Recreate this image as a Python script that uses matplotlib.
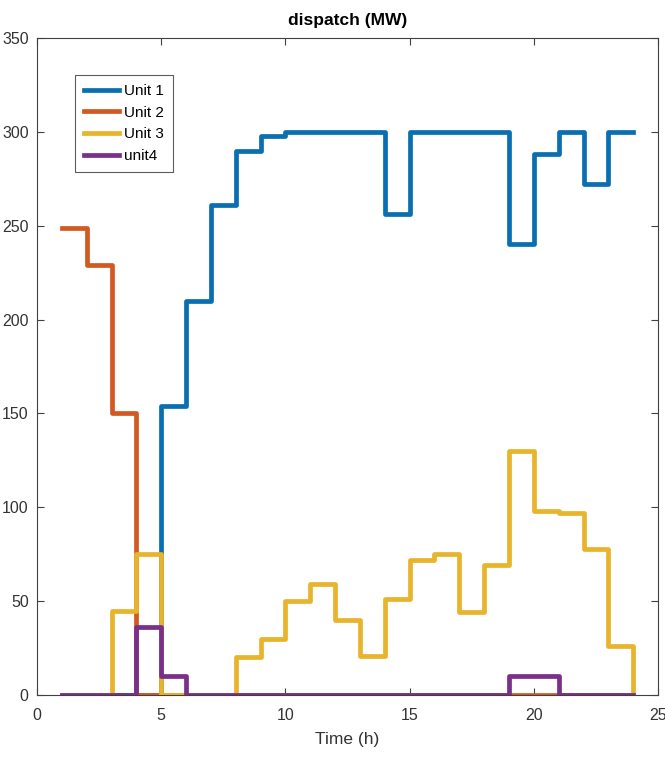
import numpy as np
import matplotlib
matplotlib.use("Agg")
import matplotlib.pyplot as plt

plt.rcParams['font.family'] = ['Liberation Sans', 'DejaVu Sans']

# hourly dispatch of each unit (MW)
hours = np.arange(1, 25)
unit1 = [0, 0, 0, 0, 154, 210, 261, 290, 298, 300, 300, 300,
         300, 256, 300, 300, 300, 300, 240, 288, 300, 272, 300, 300]
unit2 = [249, 229, 150, 0, 0, 0, 0, 0, 0, 0, 0, 0,
         0, 0, 0, 0, 0, 0, 0, 0, 0, 0, 0, 0]
unit3 = [0, 0, 45, 75, 0, 0, 0, 20, 30, 50, 59, 40,
         21, 51, 72, 75, 44, 69, 130, 98, 97, 78, 26, 0]
unit4 = [0, 0, 0, 36, 10, 0, 0, 0, 0, 0, 0, 0,
         0, 0, 0, 0, 0, 0, 10, 10, 0, 0, 0, 0]

names = ['Unit 1', 'Unit 2', 'Unit 3', 'unit4']
colors = ['#0a6fb0', '#d25a22', '#e8b42c', '#7a2f8a']

fig = plt.figure(figsize=(6.65, 7.6), dpi=100)
ax = fig.add_axes([0.0556, 0.0855, 0.934, 0.8645])

for y, name, c in zip([unit1, unit2, unit3, unit4], names, colors):
    ax.step(hours, y, where='post', color=c, lw=3.4, label=name)

ax.set_xlim(0, 25)
ax.set_ylim(0, 350)
ax.set_xticks(np.arange(0, 26, 5))
ax.set_yticks(np.arange(0, 351, 50))

axcol = '#404040'
for s in ax.spines.values():
    s.set_color(axcol)
    s.set_linewidth(0.8)
ax.tick_params(direction='in', top=True, right=True, length=5,
               colors=axcol, labelsize=11.5, labelcolor='#333333')
ax.tick_params(axis='x', pad=9)
ax.tick_params(axis='y', pad=6)

ax.set_xlabel('Time (h)', fontsize=12.5, color='#333333', labelpad=7)
ax.set_title('dispatch (MW)', fontsize=12.5, fontweight='bold', pad=9)

leg = ax.legend(loc='upper left', bbox_to_anchor=(0.061, 0.944),
                borderaxespad=0, fontsize=11, frameon=True, fancybox=False,
                handlelength=2.3, handletextpad=0.3, borderpad=0.6,
                labelspacing=0.5)
leg.get_frame().set_edgecolor('#333333')
leg.get_frame().set_linewidth(0.8)

fig.savefig('out.png', dpi=100, facecolor='white')
